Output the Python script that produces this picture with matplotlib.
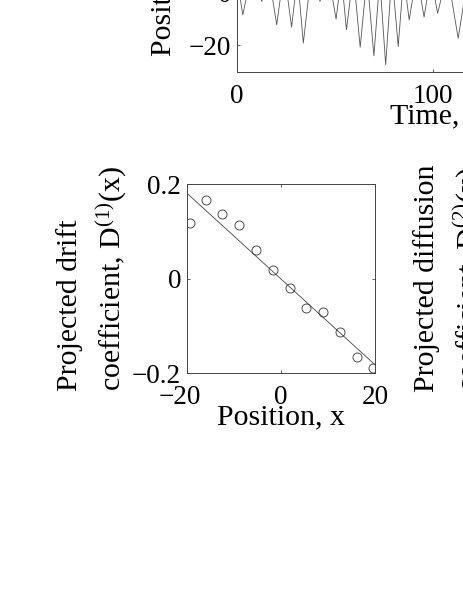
import matplotlib
matplotlib.use('Agg')
import matplotlib.pyplot as plt
from matplotlib.transforms import ScaledTranslation

plt.rcParams['font.family'] = ['Liberation Serif', 'DejaVu Serif']
plt.rcParams['mathtext.fontset'] = 'custom'
plt.rcParams['mathtext.rm'] = 'Liberation Serif'
plt.rcParams['mathtext.it'] = 'Liberation Serif:italic'
plt.rcParams['font.size'] = 19.5
LABEL_SIZE = 21.5

# time series (only the first ~115 time units are inside the crop)
time = [0, 3.1, 7.5, 12.8, 16.5, 20.4, 24.2, 28.0, 31.0, 34.0, 38.0, 42.5,
        46.5, 50.7, 53.4, 56.0, 59.5, 63.0, 66.5, 70.0, 73.0, 76.0, 79.2,
        82.4, 85.2, 88.0, 91.8, 95.6, 99.0, 102.5, 107.5, 113.0, 118.0, 124.0]
position = [6, -8.6, 7, -3.5, 6, -12.3, 8, -13.2, 6, -19.2, 7, -3.5,
            8, -10.2, 6, -14.2, 7, -20.8, 6, -24.0, 5, -27.4, 7, -20.5,
            6, -10.5, 7, -9.4, 6, -8.0, 7, -17.4, 6, -6]

# projected drift coefficient
bin_x = [-19.4, -16.0, -12.4, -8.9, -5.2, -1.7, 1.9, 5.4, 9.0, 12.6, 16.2, 19.6]
drift = [0.118, 0.167, 0.137, 0.113, 0.060, 0.018, -0.020, -0.061, -0.071,
         -0.113, -0.166, -0.188]
fit_x = [-20, 20]
fit_y = [0.181, -0.182]

W, H = 463, 599
fig = plt.figure(figsize=(W / 100, H / 100), dpi=100)


def style(ax):
    for s in ax.spines.values():
        s.set_linewidth(0.7)
        s.set_color('#444444')
    ax.tick_params(direction='in', length=2.5, width=0.6, color='#444444',
                   top=True, right=True)
    ax.tick_params(axis='x', pad=8.5)
    ax.tick_params(axis='y', pad=4)


def shift_minus_label(ax):
    # matlab centres the digits, so the minus hangs out to the left
    lab = ax.get_xticklabels()[0]
    lab.set_transform(lab.get_transform() + ScaledTranslation(-5 / 72, 0, fig.dpi_scale_trans))


# top panel: position vs time
ax1 = fig.add_axes([236.7 / W, (H - 71.7) / H, 392 / W, 159.2 / H])
ax1.plot(time, position, color='#555555', lw=0.6)
ax1.set_xlim(0, 200)
ax1.set_ylim(-30, 30)
ax1.set_xticks([0, 100, 200])
ax1.set_yticks([-20, 0, 20])
ax1.set_yticklabels(['\u221220', '0', '20'])
ax1.set_xlabel('Time, t', fontsize=LABEL_SIZE, labelpad=-4)
ax1.set_ylabel('Position, x', fontsize=LABEL_SIZE, labelpad=9)
style(ax1)

# bottom left: drift
ax2 = fig.add_axes([186.7 / W, (H - 373.3) / H, 188.3 / W, 189.3 / H])
ax2.plot(fit_x, fit_y, color='#444444', lw=0.6)
ax2.plot(bin_x, drift, 'o', mfc='none', mec='#333333', mew=0.6, ms=6.5)
ax2.set_xlim(-20, 20)
ax2.set_ylim(-0.2, 0.2)
ax2.set_xticks([-20, 0, 20])
ax2.set_xticklabels(['\u221220', '0', '20'])
ax2.set_yticks([-0.2, 0, 0.2])
ax2.set_yticklabels(['\u22120.2', '0', '0.2'])
ax2.set_xlabel('Position, x', fontsize=LABEL_SIZE, labelpad=-4)
ax2.set_ylabel('Projected drift\ncoefficient, D$^{(1)}$(x)', fontsize=LABEL_SIZE,
               va='center', multialignment='left', linespacing=1.45)
ax2.yaxis.set_label_coords(-0.5, 0.5)
style(ax2)
shift_minus_label(ax2)

# bottom right: diffusion (axes lies outside the crop, only its label shows)
ax3 = fig.add_axes([544 / W, (H - 373.3) / H, 188.3 / W, 189.3 / H])
ax3.set_ylabel('Projected diffusion\ncoefficient, D$^{(2)}$(x)', fontsize=LABEL_SIZE,
               va='center', multialignment='left', linespacing=1.45)
ax3.yaxis.set_label_coords(-0.5, 0.5)
style(ax3)

fig.savefig('out.png', dpi=100)
